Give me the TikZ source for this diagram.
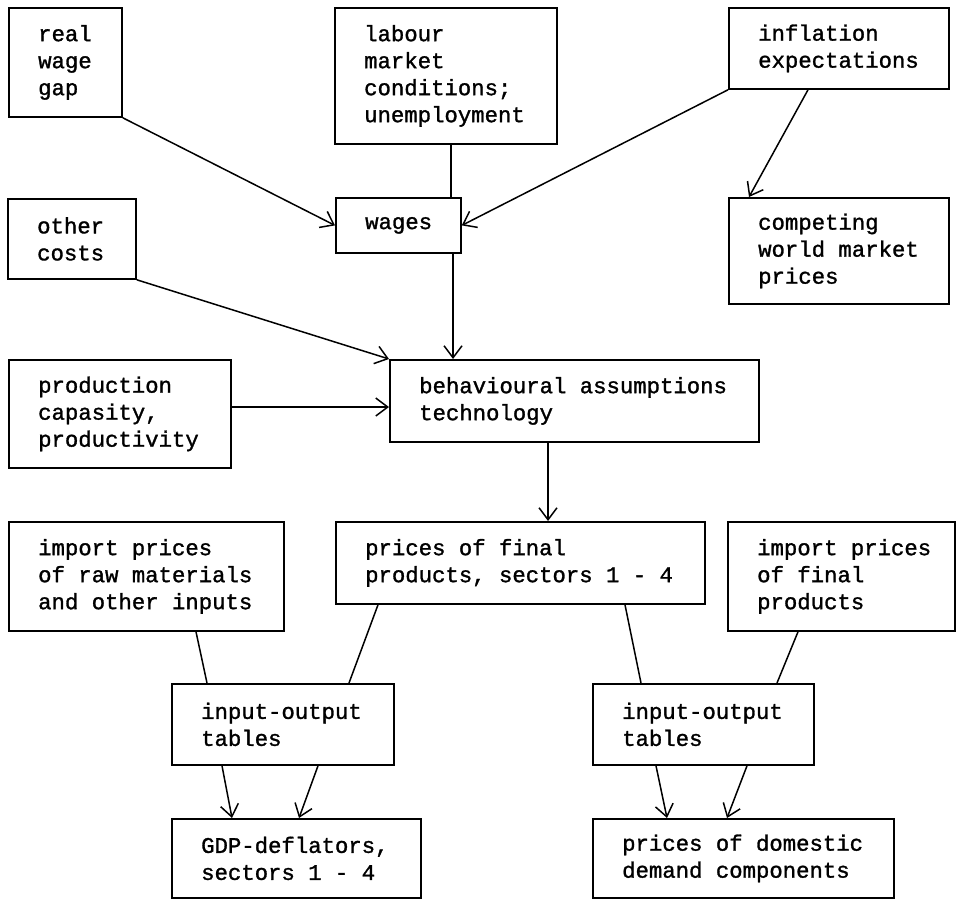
\documentclass[tikz,border=0pt]{standalone}
\usepackage{fontspec}
\setmonofont[FakeBold=1.3]{Liberation Mono}
\usetikzlibrary{arrows.meta,calc}
\newcommand\mybox[6]{%
  \node[boxst, minimum width=#4pt, minimum height=#5pt] (#1) at (#2,#3) {};
  \node[txt] (#1t) at ([xshift=30pt]#1.west) {#6};}
\begin{document}
\begin{tikzpicture}[x=1pt,y=-1pt,
  boxst/.style={draw, line width=1.8pt, inner sep=0pt, anchor=north west},
  txt/.style={anchor=west, align=left, inner sep=0pt, font=\ttfamily\fontsize{22.3pt}{27pt}\selectfont},
  conn/.style={line width=1.5pt},
  arr/.style={conn, -{Straight Barb[length=12pt,width=18pt]}}]
\useasboundingbox (0,0) rectangle (956,899);

\mybox{rwg}{8}{7}{113}{109}{real\\wage\\gap}
\mybox{lab}{334}{7}{222}{136}{labour\\market\\conditions;\\unemployment}
\mybox{inf}{728}{7}{220}{81}{inflation\\expectations}
\mybox{wag}{335}{197}{125}{55}{wages}
\mybox{oc}{7}{198}{128}{80}{other\\costs}
\mybox{cmp}{728}{197}{220}{106}{competing\\world market\\prices}
\mybox{prd}{8}{359}{222}{108}{production\\capasity,\\productivity}
\mybox{beh}{389}{359}{369}{82}{behavioural assumptions\\technology}
\mybox{imr}{8}{521}{275}{109}{import prices\\of raw materials\\and other inputs}
\mybox{pfp}{335}{521}{369}{82}{prices of final\\products, sectors 1 - 4}
\mybox{imf}{727}{521}{227}{109}{import prices\\of final\\products}
\mybox{iol}{171}{683}{222}{81}{input-output\\tables}
\mybox{ior}{592}{683}{221}{81}{input-output\\tables}
\mybox{gdp}{171}{818}{249}{79}{GDP-deflators,\\sectors 1 - 4}
\mybox{dd}{592}{818}{301}{79}{prices of domestic\\demand components}

\draw[arr] (rwg.south east) -- (wag.west);
\draw[conn] ($(lab.south west)+(117,0)$) -- ($(wag.north west)+(116,0)$);
\draw[arr] (inf.south west) -- (wag.east);
\draw[arr] ($(inf.south west)+(80,0)$) -- ($(cmp.north west)+(21,0)$);
\draw[arr] ($(wag.south west)+(118,0)$) -- ($(beh.north west)+(64,0)$);
\draw[arr] (oc.south east) -- (beh.north west);
\draw[arr] ($(prd.north east)+(0,48)$) -- ($(beh.north west)+(0,48)$);
\draw[arr] ($(beh.south west)+(159,0)$) -- ($(pfp.north west)+(213,0)$);

\draw[conn] ($(imr.south west)+(188,0)$) -- ($(iol.north west)+(36,0)$);
\draw[conn] ($(pfp.south west)+(43,0)$) -- ($(iol.north west)+(178,0)$);
\draw[conn] ($(pfp.south west)+(290,0)$) -- ($(ior.north west)+(49,0)$);
\draw[conn] ($(imf.south west)+(71,0)$) -- ($(ior.north west)+(185,0)$);
\draw[arr] ($(iol.south west)+(51,0)$) -- ($(gdp.north west)+(61,0)$);
\draw[arr] ($(iol.south west)+(147,0)$) -- ($(gdp.north west)+(128,0)$);
\draw[arr] ($(ior.south west)+(64,0)$) -- ($(dd.north west)+(75,0)$);
\draw[arr] ($(ior.south west)+(155,0)$) -- ($(dd.north west)+(135,0)$);
\end{tikzpicture}
\end{document}
